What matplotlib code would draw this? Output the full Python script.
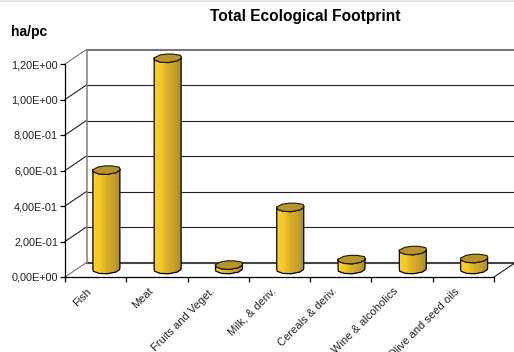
import numpy as np
import matplotlib
matplotlib.use("Agg")
import matplotlib.pyplot as plt
from matplotlib.colors import LinearSegmentedColormap
from matplotlib.patches import Polygon, Rectangle

categories = ["Fish", "Meat", "Fruits and Veget.", "Milk, & deriv.",
              "Cereals & deriv.", "Wine & alcoholics", "Olive and seed oils"]
footprint = [0.56, 1.19, 0.025, 0.35, 0.056, 0.107, 0.062]
y_ticks = [0.0, 0.2, 0.4, 0.6, 0.8, 1.0, 1.2]
y_labels = ["0,00E+00", "2,00E-01", "4,00E-01", "6,00E-01",
            "8,00E-01", "1,00E+00", "1,20E+00"]

W, H = 514, 352
plt.rcParams["font.family"] = ["Liberation Sans", "DejaVu Sans"]
fig = plt.figure(figsize=(W / 100, H / 100), dpi=100, facecolor="white")
fig.add_artist(Rectangle((0, 1 - 1.5 / H), 1, 1.5 / H, transform=fig.transFigure,
                         facecolor="#e3e5ec", edgecolor="none"))

# Front plane of the pseudo-3D box
left, right, bottom, top = 65, 494, 277, 64
ax = fig.add_axes([left / W, 1 - bottom / H, (right - left) / W, (bottom - top) / H])
ax.set_xlim(0, len(categories))
ax.set_ylim(0, 1.2)
ax.patch.set_visible(False)
for side in ("top", "right"):
    ax.spines[side].set_visible(False)
for side in ("left", "bottom"):
    ax.spines[side].set_color("black")
    ax.spines[side].set_linewidth(0.9)

# Depth of the box, in data units
dx = 21.5 * len(categories) / (right - left)
dy = 14.5 * 1.2 / (bottom - top)

# Back wall, floor and side wall
for i, v in enumerate(y_ticks):
    edge = i == len(y_ticks) - 1
    floor = i == 0
    ax.plot([dx, len(categories) + dx], [v + dy] * 2, clip_on=False, zorder=1,
            color="#777777" if edge else ("#444444" if floor else "#222222"),
            lw=1.5 if floor or edge else 0.8)
    ax.plot([0, dx], [v, v + dy], clip_on=False, zorder=1,
            color="#777777" if edge or floor else "#222222", lw=0.8)
ax.plot([dx, dx], [dy, 1.2 + dy], color="#808080", lw=1.1, clip_on=False, zorder=1)
ax.plot([len(categories), len(categories) + dx], [0, dy], color="#222222", lw=0.8,
        clip_on=False, zorder=1)

cmap = LinearSegmentedColormap.from_list(
    "gold", ["#ffcf24", "#f6c826", "#d8ae2b", "#c9a22c", "#a98a2a"])
gradient = np.tile(np.linspace(0, 1, 128), (4, 1))

half_w = 0.22
cap_h = 0.024
# Faceted cap outline, as unit offsets listed from the left point around the near side
near_side = [(-1.0, 0.15), (-0.97, -0.35), (-0.55, -0.85), (0.05, -0.95),
             (0.7, -0.55), (0.97, 0.0), (1.0, 0.35)]
far_side = [(0.95, 0.75), (0.4, 1.05), (-0.1, 1.05), (-0.6, 0.8)]


def cap(cx, v, ring):
    return np.array([(cx + half_w * a, v + cap_h * b) for a, b in ring])


# Columns standing halfway into the box
for i, v in enumerate(footprint):
    cx = i + 0.5 + dx / 2
    base = dy / 2
    body = np.vstack([cap(cx, base, near_side), cap(cx, base + v, near_side)[::-1]])
    img = ax.imshow(gradient, extent=(cx - half_w, cx + half_w, base - cap_h * 2,
                                      base + v + cap_h * 2),
                    cmap=cmap, aspect="auto", zorder=3, interpolation="nearest")
    # The tallest column rises past the front plane, so only its own outline may clip it
    img.set_clip_box(fig.bbox)
    img.set_clip_path(Polygon(body, closed=True, transform=ax.transData))
    ax.add_patch(Polygon(body, closed=True, facecolor="none", edgecolor="black",
                         lw=0.9, zorder=4, clip_on=False, joinstyle="round"))
    ax.add_patch(Polygon(cap(cx, base + v, near_side + far_side), closed=True,
                         facecolor="#b8942a", edgecolor="#1a1a00", lw=0.8,
                         zorder=5, clip_on=False, joinstyle="round"))
ax.set_xlim(0, len(categories))
ax.set_ylim(0, 1.2)

ax.set_yticks(y_ticks)
ax.set_yticklabels(y_labels, fontsize=7.8, color="#222222")
ax.tick_params(axis="y", length=3.5, width=0.9, pad=1.5)
ax.set_xticks(np.arange(len(categories) + 1))
ax.set_xticklabels([])
ax.tick_params(axis="x", length=3.5, width=0.9, direction="out")

# Slanted category labels, anchored at their upper right end
for i, name in enumerate(categories):
    ax.annotate(name, xy=(i + 0.5, 0), xytext=(-6.5, -6.5), textcoords="offset points",
                rotation=45, ha="right", va="top", rotation_mode="anchor",
                fontsize=8.0, color="#222222", annotation_clip=False)

fig.text(305 / W, 1 - 17 / H, "Total Ecological Footprint", ha="center", va="center",
         fontsize=11.2, fontweight="bold")
fig.text(11 / W, 1 - 32 / H, "ha/pc", ha="left", va="center", fontsize=10,
         fontweight="bold")

fig.savefig("out.png", dpi=100, facecolor="white")
